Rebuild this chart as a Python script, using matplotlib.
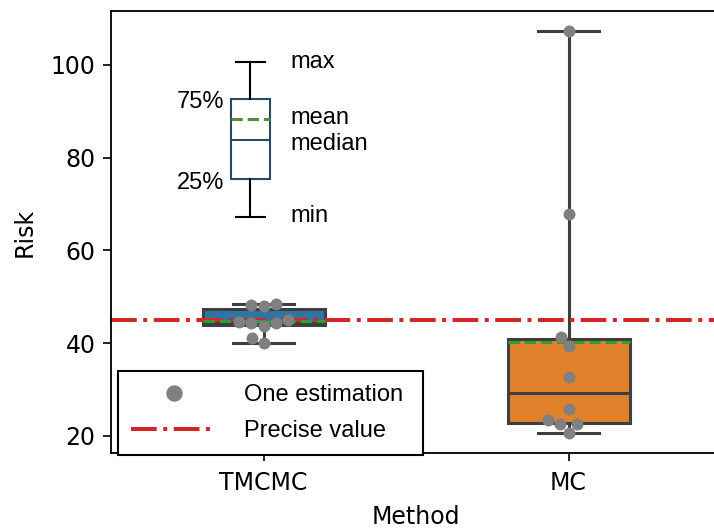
import numpy as np
import matplotlib
matplotlib.use("Agg")
import matplotlib.pyplot as plt
from matplotlib.lines import Line2D
import seaborn as sns

# estimates
methods = ["TMCMC", "MC"]
tmcmc_risk = [48.3, 48.0, 48.5, 45.0, 44.3, 43.7, 44.3, 44.5, 41.2, 40.0]
mc_risk = [107.3, 67.9, 41.3, 39.3, 32.6, 25.8, 22.5, 22.5, 23.4, 20.6]
precise_value = 45.0
box_colors = ["#3274a1", "#e1812c"]

# the little explanatory box in the corner
key_stats = {"whislo": 67.2, "q1": 75.4, "med": 83.8, "q3": 92.7, "whishi": 100.7, "mean": 88.4}
key_x = -0.043

line_gray = "#3f3f3f"
arial = "Liberation Sans"

fig = plt.figure(figsize=(7.14, 5.29), dpi=100)
ax = fig.add_axes([111 / 714, 76 / 529, 610 / 714, 442 / 529])

bp = ax.boxplot([tmcmc_risk, mc_risk], positions=[0, 1], widths=0.4, whis=(0, 100),
                patch_artist=True, showfliers=False, showmeans=True, meanline=True,
                boxprops=dict(edgecolor=line_gray, linewidth=2.2),
                whiskerprops=dict(color=line_gray, linewidth=2.2),
                capprops=dict(color=line_gray, linewidth=2.2),
                medianprops=dict(color=line_gray, linewidth=2.2),
                meanprops=dict(color="#2ca02c", linestyle="--", linewidth=2.2, zorder=2.6))
for patch, c in zip(bp["boxes"], box_colors):
    patch.set_facecolor(c)

ax.axhline(precise_value, color="#d62728", linestyle="-.", linewidth=2.9, zorder=2.5)

vals = tmcmc_risk + mc_risk
labs = [methods[0]] * len(tmcmc_risk) + [methods[1]] * len(mc_risk)
sns.swarmplot(x=labs, y=vals, order=methods, color="#808080", size=8.6, ax=ax, zorder=3)

# key box
ax.bxp([key_stats], positions=[key_x], widths=0.128, capwidths=0.095,
       showfliers=False, showmeans=True, meanline=True, patch_artist=True,
       boxprops=dict(facecolor="white", edgecolor="#2b4862", linewidth=1.5),
       whiskerprops=dict(color="black", linewidth=1.5),
       capprops=dict(color="black", linewidth=1.5),
       medianprops=dict(color="#2b4862", linewidth=1.5),
       meanprops=dict(color="#5a8c3a", linestyle="--", linewidth=2.2))
tx = key_x + 0.131
ax.text(tx, key_stats["whishi"] - 0.1, "max", fontsize=17, family=arial, va="center")
ax.text(tx, key_stats["mean"] + 0.2, "mean", fontsize=17, family=arial, va="center")
ax.text(tx, key_stats["med"] - 0.8, "median", fontsize=17, family=arial, va="center")
ax.text(tx, key_stats["whislo"] + 0.1, "min", fontsize=17, family=arial, va="center")
ax.text(key_x - 0.085, key_stats["q3"] - 0.8, "75%", fontsize=17, family=arial, va="center", ha="right")
ax.text(key_x - 0.085, key_stats["q1"] - 0.8, "25%", fontsize=17, family=arial, va="center", ha="right")

ax.set_xlim(-0.5, 1.5)
ax.set_ylim(16.3, 111.6)
ax.set_xticks([0, 1])
ax.set_xticklabels(methods)
ax.set_yticks([20, 40, 60, 80, 100])
ax.tick_params(labelsize=17, length=6, width=1.2, pad=5)
ax.tick_params(axis="x", pad=7)
for s in ax.spines.values():
    s.set_linewidth(1.3)
ax.set_xlabel("Method", fontsize=17, labelpad=7)
ax.set_ylabel("Risk", fontsize=17, labelpad=10)

handles = [Line2D([], [], marker="o", ls="none", color="#808080", markersize=10.8),
           Line2D([], [], color="#d62728", ls="-.", linewidth=2.9)]
leg = ax.legend(handles, ["One estimation", "Precise value"], loc="lower left",
                bbox_to_anchor=(0.0115, -0.005, 305 / 610, 0.2), mode="expand", borderaxespad=0,
                prop=dict(family=arial, size=17),
                handlelength=3.6, handletextpad=1.2, borderpad=0.55, labelspacing=0.6,
                fancybox=False, framealpha=1, edgecolor="black")
leg.get_frame().set_linewidth(1.5)

fig.savefig("out.png", dpi=100)
